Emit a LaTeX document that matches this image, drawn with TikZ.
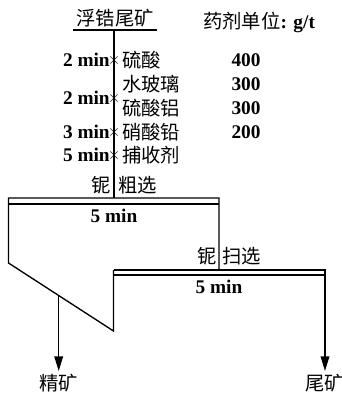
\documentclass[tikz,border=0pt]{standalone}
\usepackage{fontspec}
\setmainfont{Liberation Serif}
\newfontfamily\cjk{Noto Sans CJK SC}
\usepackage{tikz}
\usetikzlibrary{%
	calc,%
	arrows.meta
}
\tikzset{
	txt/.style={inner sep=0pt,font=\fontsize{14.5}{17}\selectfont\cjk},
	num/.style={inner sep=0pt,font=\fontsize{14.5}{17}\selectfont\bfseries},
	crossmark/.style={inner sep=0pt,font=\fontsize{12}{13}\selectfont},
	flow/.style={line width=1pt},
	outarrow/.style={flow,-{Triangle[length=11pt,width=6.5pt]}}
}

\begin{document}
\begin{tikzpicture}[x=0.75pt,y=-0.75pt]
			\useasboundingbox (0,0) rectangle (342,397);
			% Feed
			\node[txt] (feed) at (115,18) {浮锆尾矿};
			\coordinate (ulleft) at (73,30);
			\coordinate (ulright) at (157,30);
			\draw[flow] (ulleft) -- (ulright);
			\node[txt,anchor=west] (unit) at (203,22) {药剂单位\textbf{\rmfamily: g/t}};
			
			% Reagents
			\coordinate (feedtop) at (114,30);
			\coordinate (rtop) at (114,198);
			\draw[flow] (feedtop) -- (rtop);
			\foreach \y/\name in {60/a,98/b,132/c,155/d}
				\node[crossmark] (x\name) at (114,\y) {$\times$};
			\node[num,anchor=east] (ta) at (110,60) {2 min};
			\node[num,anchor=east] (tb) at (110,98) {2 min};
			\node[num,anchor=east] (tc) at (110,132) {3 min};
			\node[num,anchor=east] (td) at (110,155) {5 min};
			\node[txt,anchor=west] (ra) at (122,60) {硫酸};
			\node[txt,anchor=west] (rb) at (122,84) {水玻璃};
			\node[txt,anchor=west] (rc) at (122,108) {硫酸铝};
			\node[txt,anchor=west] (rd) at (122,132) {硝酸铅};
			\node[txt,anchor=west] (re) at (122,155) {捕收剂};
			\node[num] (da) at (246,60) {400};
			\node[num] (db) at (246,84) {300};
			\node[num] (dc) at (246,108) {300};
			\node[num] (dd) at (246,132) {200};
			
			% Rougher
			\node[txt,anchor=east] (nbr) at (111,185) {铌};
			\node[txt,anchor=west] (rough) at (118,185) {粗选};
			\draw[flow] (219,270) -- (219,198) -- (8.5,198) -- (8.5,263) -- (113.5,331) -- (113.5,270);
			\draw[flow] (8.5,204) -- (219,204);
			\node[num] (rtime) at (114,216) {5 min};
			
			% Scavenger
			\node[txt,anchor=east] (nbs) at (217,256) {铌};
			\node[txt,anchor=west] (scav) at (222,256) {扫选};
			\draw[flow] (113.5,270) -- (325,270) -- (325,276);
			\draw[flow] (113.5,275) -- (325,275);
			\node[num] (stime) at (219,287) {5 min};
			
			% Products
			\node[txt] (conc) at (59,383) {精矿};
			\node[txt,anchor=west] (tail) at (305,383) {尾矿};
			\coordinate (cstart) at (58.7,295.5);
			\coordinate (cend) at (58.7,371);
			\coordinate (tstart) at (325,275);
			\coordinate (tend) at (325,371);
			\draw[outarrow] (cstart) -- (cend);
			\draw[outarrow] (tstart) -- (tend);
		\end{tikzpicture}
\end{document}
